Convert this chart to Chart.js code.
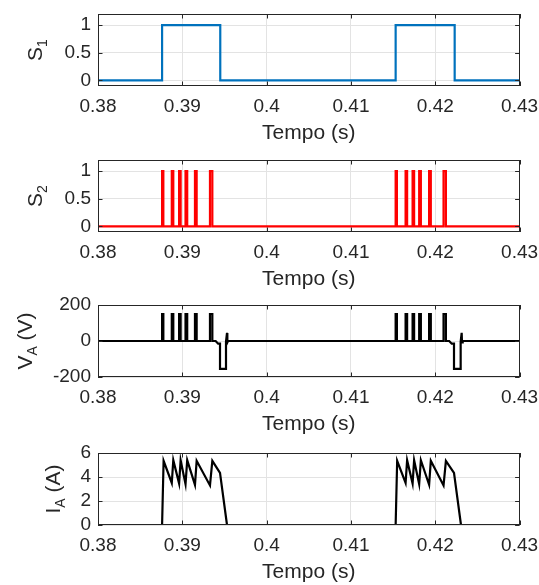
<!DOCTYPE html>
<html><head><meta charset="utf-8">
<script src="https://cdn.jsdelivr.net/npm/chart.js@4/dist/chart.umd.min.js"></script>
<style>
html,body{margin:0;padding:0;background:#fff;}
#wrap{position:relative;width:539px;height:585px;overflow:hidden;background:#fff;}
canvas{position:absolute;left:0;}
</style></head><body>
<div id="wrap">
<canvas id="c1"></canvas>
<canvas id="c2"></canvas>
<canvas id="c3"></canvas>
<canvas id="c4"></canvas>
</div>
<script>
// ---------- DATA ----------
const xTickValues = [0.38, 0.39, 0.40, 0.41, 0.42, 0.43];
const xTickLabels = ['0.38', '0.39', '0.4', '0.41', '0.42', '0.43'];
const xLabel = 'Tempo (s)';

// S1 gate signal (change points, stepped)
const s1Time  = [0.38, 0.3876, 0.3945, 0.4153, 0.4223, 0.43];
const s1Value = [0, 1, 0, 1, 0, 0];
const s1Ticks = [0, 0.5, 1];
const s1TickLabels = ['0', '0.5', '1'];

// S2 gate signal (change points, stepped)
const s2Time  = [0.38,
  0.38760, 0.38775, 0.38875, 0.38893, 0.38962, 0.38980, 0.39038, 0.39058, 0.39150, 0.39170, 0.39328, 0.39356,
  0.41530, 0.41545, 0.41648, 0.41666, 0.41731, 0.41749, 0.41809, 0.41829, 0.41927, 0.41947, 0.42098, 0.42126,
  0.43];
const s2Value = [0,
  1, 0, 1, 0, 1, 0, 1, 0, 1, 0, 1, 0,
  1, 0, 1, 0, 1, 0, 1, 0, 1, 0, 1, 0,
  0];
const s2Ticks = [0, 0.5, 1];
const s2TickLabels = ['0', '0.5', '1'];

// VA voltage
const vaTime = [0.38,
  0.38760, 0.38760, 0.38775, 0.38775,
  0.38875, 0.38875, 0.38893, 0.38893,
  0.38962, 0.38962, 0.38980, 0.38980,
  0.39038, 0.39038, 0.39058, 0.39058,
  0.39150, 0.39150, 0.39170, 0.39170,
  0.39328, 0.39328, 0.39356, 0.39356,
  0.39395, 0.39425, 0.39447, 0.39447, 0.39518, 0.39518, 0.39530, 0.39534, 0.39542,
  0.41530, 0.41530, 0.41545, 0.41545,
  0.41648, 0.41648, 0.41666, 0.41666,
  0.41731, 0.41731, 0.41749, 0.41749,
  0.41809, 0.41809, 0.41829, 0.41829,
  0.41927, 0.41927, 0.41947, 0.41947,
  0.42098, 0.42098, 0.42126, 0.42126,
  0.42165, 0.42195, 0.42222, 0.42222, 0.42301, 0.42301, 0.42313, 0.42317, 0.42325,
  0.43];
const vaValue = [0,
  0, 150, 150, 0,
  0, 150, 150, 0,
  0, 150, 150, 0,
  0, 150, 150, 0,
  0, 150, 150, 0,
  0, 150, 150, 0,
  0, -15, -15, -155, -155, -5, 45, -8, 0,
  0, 150, 150, 0,
  0, 150, 150, 0,
  0, 150, 150, 0,
  0, 150, 150, 0,
  0, 150, 150, 0,
  0, 150, 150, 0,
  0, -15, -15, -155, -155, -5, 45, -8, 0,
  0];
const vaTicks = [-200, 0, 200];
const vaTickLabels = ['-200', '0', '200'];

// IA current
const iaTime = [0.38,
  0.38760, 0.38778, 0.38875, 0.38893, 0.38962, 0.38980, 0.39038, 0.39058, 0.39150, 0.39170, 0.39328, 0.39356, 0.39447, 0.39530,
  0.41530, 0.41548, 0.41648, 0.41666, 0.41731, 0.41749, 0.41809, 0.41829, 0.41927, 0.41947, 0.42098, 0.42126, 0.42222, 0.42305,
  0.43];
const iaValue = [0,
  0, 5.35, 3.5, 5.4, 3.45, 5.4, 3.4, 5.4, 3.35, 5.35, 3.3, 5.35, 4.35, 0,
  0, 5.35, 3.5, 5.4, 3.45, 5.4, 3.4, 5.4, 3.35, 5.35, 3.3, 5.35, 4.35, 0,
  0];
const iaTicks = [0, 2, 4, 6];
const iaTickLabels = ['0', '2', '4', '6'];

// ---------- DRAWING ----------
const FONT = "'Liberation Sans', Arial, Helvetica, sans-serif";
const TXT = '#262626';
const GRID = '#e3e3e3';
const TICK_FS = 19, LABEL_FS = 21, SUB_FS = 14;
const PAD_TOP = 14, PLOT_H = 72, XAXIS_H = 60, LEFT = 98, RIGHT_PAD = 19.4;

const framePlugin = {
  id: 'frame',
  afterDraw(chart, args, opts) {
    const {ctx, chartArea: a, scales: {x, y}} = chart;
    ctx.save();
    ctx.strokeStyle = TXT;
    ctx.lineWidth = 1;
    const tl = 4.5;
    ctx.beginPath();
    x.ticks.forEach(t => {
      const px = Math.round(x.getPixelForValue(t.value)) + 0.5;
      ctx.moveTo(px, a.bottom); ctx.lineTo(px, a.bottom - tl);
      ctx.moveTo(px, a.top); ctx.lineTo(px, a.top + tl);
    });
    y.ticks.forEach(t => {
      const py = Math.round(y.getPixelForValue(t.value)) + 0.5;
      ctx.moveTo(a.left, py); ctx.lineTo(a.left + tl, py);
      ctx.moveTo(a.right, py); ctx.lineTo(a.right - tl, py);
    });
    ctx.stroke();
    ctx.strokeRect(Math.round(a.left) + 0.5, Math.round(a.top) + 0.5, Math.round(a.width) - 1, Math.round(a.height) - 1);
    // y-axis title with subscript
    const parts = opts.parts || [];
    const mainF = LABEL_FS + 'px ' + FONT, subF = SUB_FS + 'px ' + FONT;
    let total = 0;
    parts.forEach(p => { ctx.font = p.sub ? subF : mainF; p.w = ctx.measureText(p.t).width; total += p.w; });
    const cy = (a.top + a.bottom) / 2;
    ctx.translate(opts.baseX, cy);
    ctx.rotate(-Math.PI / 2);
    ctx.fillStyle = TXT;
    ctx.textBaseline = 'alphabetic';
    ctx.textAlign = 'left';
    let cx = -total / 2;
    parts.forEach(p => {
      ctx.font = p.sub ? subF : mainF;
      ctx.fillText(p.t, cx, p.sub ? 5 : 0);
      cx += p.w;
    });
    ctx.restore();
  }
};

function makePanel(id, plotTop, times, values, opts) {
  const cv = document.getElementById(id);
  const H = PAD_TOP + PLOT_H + XAXIS_H;
  cv.width = 539; cv.height = H;
  cv.style.top = (plotTop - PAD_TOP) + 'px';
  cv.style.width = '539px'; cv.style.height = H + 'px';
  const data = times.map((t, i) => ({x: t, y: values[i]}));
  new Chart(cv, {
    type: 'line',
    data: {datasets: [{
      data: data,
      borderColor: opts.color,
      borderWidth: opts.width,
      pointRadius: 0,
      tension: 0,
      stepped: opts.stepped || false,
      fill: false
    }]},
    options: {
      responsive: false,
      animation: false,
      devicePixelRatio: 1,
      layout: {padding: {top: PAD_TOP, left: 0, right: RIGHT_PAD, bottom: 0}},
      plugins: {
        legend: {display: false},
        tooltip: {enabled: false},
        frame: {parts: opts.title, baseX: opts.titleX}
      },
      scales: {
        x: {
          type: 'linear', min: 0.38, max: 0.43,
          afterBuildTicks: s => { s.ticks = xTickValues.map(v => ({value: v})); },
          afterFit: s => { s.height = XAXIS_H; s.paddingLeft = 0; s.paddingRight = 0; },
          grid: {color: GRID, drawTicks: false, lineWidth: 1},
          border: {display: false},
          ticks: {
            padding: 9, color: TXT, maxRotation: 0, autoSkip: false,
            font: {family: FONT, size: TICK_FS},
            callback: (v, i) => xTickLabels[i]
          },
          title: {display: true, text: xLabel, color: TXT, font: {family: FONT, size: LABEL_FS}, padding: {top: 0, bottom: 0}}
        },
        y: {
          type: 'linear', min: opts.ymin, max: opts.ymax,
          afterBuildTicks: s => { s.ticks = opts.ticks.map(v => ({value: v})); },
          afterFit: s => { s.width = LEFT; s.paddingTop = 0; s.paddingBottom = 0; },
          grid: {color: GRID, drawTicks: false, lineWidth: 1},
          border: {display: false},
          ticks: {
            padding: 7, color: TXT, autoSkip: false,
            font: {family: FONT, size: TICK_FS},
            callback: (v, i) => opts.tickLabels[i]
          }
        }
      }
    },
    plugins: [framePlugin]
  });
}

makePanel('c1', 14, s1Time, s1Value, {
  color: '#0072BD', width: 2.2, stepped: 'before', ymin: -0.1, ymax: 1.2,
  ticks: s1Ticks, tickLabels: s1TickLabels,
  title: [{t: 'S'}, {t: '1', sub: true}], titleX: 42
});
makePanel('c2', 160, s2Time, s2Value, {
  color: '#FF0000', width: 2.2, stepped: 'before', ymin: -0.1, ymax: 1.2,
  ticks: s2Ticks, tickLabels: s2TickLabels,
  title: [{t: 'S'}, {t: '2', sub: true}], titleX: 42
});
makePanel('c3', 305, vaTime, vaValue, {
  color: '#000000', width: 2.2, ymin: -200, ymax: 200,
  ticks: vaTicks, tickLabels: vaTickLabels,
  title: [{t: 'V'}, {t: 'A', sub: true}, {t: ' (V)'}], titleX: 32
});
makePanel('c4', 453, iaTime, iaValue, {
  color: '#000000', width: 2.2, ymin: 0, ymax: 6,
  ticks: iaTicks, tickLabels: iaTickLabels,
  title: [{t: 'I'}, {t: 'A', sub: true}, {t: ' (A)'}], titleX: 60
});
</script>
</body></html>
